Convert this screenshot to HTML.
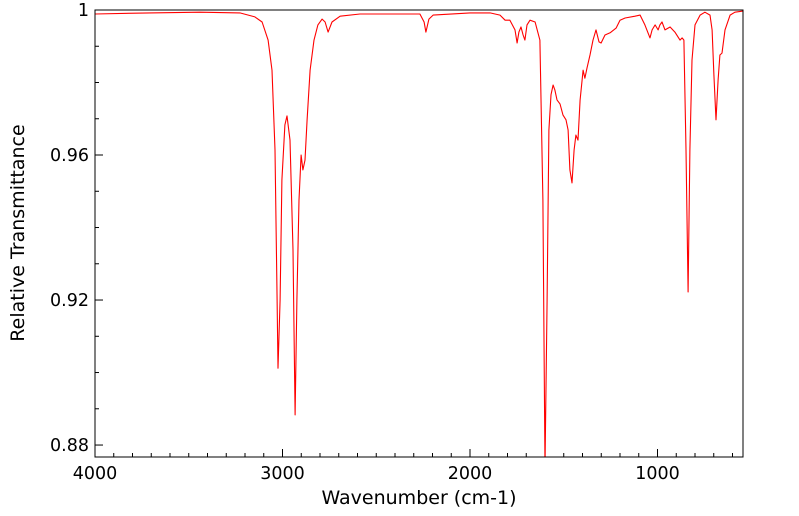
<!DOCTYPE html>
<html><head><meta charset="utf-8"><style>
html,body{margin:0;padding:0;background:#fff;width:799px;height:516px;overflow:hidden}
text{font-family:"DejaVu Sans","Liberation Sans",sans-serif;fill:#000}
</style></head><body>
<svg id="chart" width="799" height="516" viewBox="0 0 799 516" xmlns="http://www.w3.org/2000/svg">
<defs><clipPath id="pc"><rect x="95" y="10" width="648" height="447"/></clipPath></defs>
<g id="ticks"></g>
<path id="line" fill="none" stroke="#ff0000" stroke-width="1.1" stroke-linejoin="round" clip-path="url(#pc)"/>
<rect x="95" y="10" width="648" height="447" fill="none" stroke="#000" stroke-width="1"/>
<g id="labels"></g>
<text x="419" y="504" font-size="19" text-anchor="middle">Wavenumber (cm-1)</text>
<text x="24" y="233" font-size="19" text-anchor="middle" transform="rotate(-90 24 233)">Relative Transmittance</text>
</svg>
<script>
const wavenumbers=[4000,3707,3440,3227,3147,3109,3077,3056,3040,3029,3024,3013,3003,2987,2976,2960,2944,2933,2923,2912,2901,2891,2880,2869,2853,2832,2811,2789,2773,2757,2736,2693,2587,2373,2267,2245,2235,2219,2197,2000,1893,1840,1813,1787,1760,1749,1739,1728,1717,1707,1696,1680,1653,1627,1611,1600,1589,1579,1568,1557,1547,1536,1520,1504,1488,1477,1467,1456,1445,1435,1424,1413,1397,1387,1376,1360,1344,1328,1312,1301,1280,1253,1221,1200,1173,1120,1093,1067,1040,1029,1013,997,987,976,960,933,907,880,869,859,848,837,827,816,800,773,747,720,709,699,688,677,667,656,640,613,587,544];
const transmittance=[0.9989,0.9992,0.9994,0.9992,0.9981,0.9967,0.9917,0.9834,0.9614,0.9200,0.9012,0.9200,0.9531,0.9683,0.9708,0.9641,0.9338,0.8883,0.9200,0.9476,0.9600,0.9559,0.9586,0.9697,0.9834,0.9917,0.9959,0.9975,0.9967,0.9939,0.9967,0.9983,0.9989,0.9989,0.9989,0.9967,0.9939,0.9975,0.9986,0.9992,0.9992,0.9986,0.9972,0.9972,0.9945,0.9909,0.9939,0.9953,0.9931,0.9917,0.9959,0.9972,0.9967,0.9917,0.9476,0.8740,0.9200,0.9669,0.9766,0.9793,0.9779,0.9752,0.9741,0.9710,0.9697,0.9669,0.9559,0.9523,0.9614,0.9655,0.9641,0.9752,0.9834,0.9812,0.9840,0.9876,0.9917,0.9945,0.9912,0.9909,0.9931,0.9937,0.9950,0.9972,0.9978,0.9983,0.9986,0.9959,0.9923,0.9945,0.9959,0.9945,0.9959,0.9967,0.9945,0.9953,0.9939,0.9917,0.9923,0.9917,0.9614,0.9222,0.9614,0.9862,0.9959,0.9986,0.9994,0.9986,0.9945,0.9821,0.9697,0.9807,0.9876,0.9881,0.9945,0.9986,0.9994,0.9997];
const xTicks=[4000,3000,2000,1000];
const yTicks=[1,0.96,0.92,0.88];
const yTickLabels=["1","0.96","0.92","0.88"];
const X0=95,X1=743,Y0=10,Y1=457,WMAX=4000,WMIN=544,TMAX=1,TMIN=0.8767;
function xs(w){return X0+(WMAX-w)/(WMAX-WMIN)*(X1-X0);}
function ys(t){return Y0+(TMAX-t)/(TMAX-TMIN)*(Y1-Y0);}
const NS="http://www.w3.org/2000/svg";
let d="";
for(let i=0;i<wavenumbers.length;i++){d+=(i?"L":"M")+xs(wavenumbers[i]).toFixed(1)+","+ys(transmittance[i]).toFixed(1);}
document.getElementById("line").setAttribute("d",d);
const tg=document.getElementById("ticks"),lg=document.getElementById("labels");
function ln(x1,y1,x2,y2){const l=document.createElementNS(NS,"line");l.setAttribute("x1",x1);l.setAttribute("y1",y1);l.setAttribute("x2",x2);l.setAttribute("y2",y2);l.setAttribute("stroke","#000");


tg.appendChild(l);}
for(let w=3900;w>=600;w-=100){const x=xs(w);const major=w%1000===0;ln(x,Y1,x,Y1-(major?8:4));}
for(let k=0;k<=12;k++){const t=1-k*0.01;const y=ys(t);if(y>Y1)break;const major=k%4===0;ln(X0,y,X0+(major?8:4),y);}
xTicks.forEach(w=>{const t=document.createElementNS(NS,"text");t.setAttribute("x",xs(w));t.setAttribute("y",Y1+22);t.setAttribute("font-size","17.5");t.setAttribute("text-anchor","middle");t.textContent=String(w);


lg.appendChild(t);});
yTicks.forEach((v,i)=>{const t=document.createElementNS(NS,"text");t.setAttribute("x",X0-6);t.setAttribute("y",ys(v)+6);t.setAttribute("font-size","17.5");t.setAttribute("text-anchor","end");t.textContent=yTickLabels[i];


lg.appendChild(t);});
</script>
</body></html>
